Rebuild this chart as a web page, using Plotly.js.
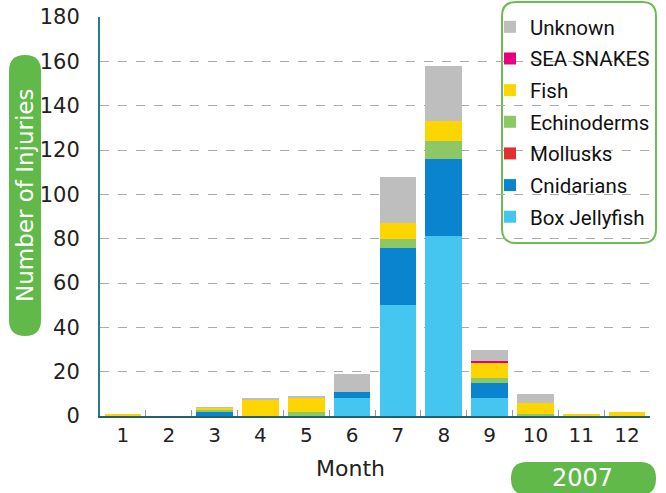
<!DOCTYPE html>
<html><head><meta charset="utf-8">
<script src="https://cdn.plot.ly/plotly-3.0.1.min.js"></script>
<style>html,body{margin:0;padding:0;background:#fff}#chart{width:666px;height:493px}</style>
</head><body><div id="chart"></div>
<script>
const months = ['1','2','3','4','5','6','7','8','9','10','11','12'];
const boxJellyfish = [0,0,0,0,0,8,50,81,8,0,0,0];
const cnidarians   = [0,0,2,0,0,3,26,35,7,0,0,0];
const mollusks     = [0,0,0,0,0,0,0,0,0,0,0,0];
const echinoderms  = [0,0,0.5,0,2,0,4,8,2,1,0,0];
const fish         = [1,0,1,7,6,0,7,9,7,5,1,2];
const seaSnakes    = [0,0,0,0,0,0,0,0,1,0,0,0];
const unknown      = [0,0,0.5,1,1,8,21,25,5,4,0,0];

const series = [
  {name:'Box Jellyfish', y:boxJellyfish, color:'#45c6f0'},
  {name:'Cnidarians', y:cnidarians, color:'#0b84cf'},
  {name:'Mollusks', y:mollusks, color:'#e2302f'},
  {name:'Echinoderms', y:echinoderms, color:'#8dc766'},
  {name:'Fish', y:fish, color:'#fdd500'},
  {name:'SEA SNAKES', y:seaSnakes, color:'#e5007f'},
  {name:'Unknown', y:unknown, color:'#bebebe'}
];

const traces = series.map((s,i)=>({
  type:'bar', x:months, y:s.y, name:s.name, legendgroup:'g'+i,
  legendrank: 1000 - i*10,
  marker:{color:s.color, line:{width:0}}, hoverinfo:'x+y+name'
}));

const W=666,H=493, L=100, R=16, T=17, B=77;
const pw=W-L-R, ph=H-T-B;
function px(x){return +((x-L)/pw).toFixed(5);}
function py(y){return +(1-(y-T)/ph).toFixed(5);}
function pill(x0,y0,x1,y1,r,fill,stroke,sw){
  const d = 'M'+px(x0+r)+','+py(y0)+
    ' L'+px(x1-r)+','+py(y0)+
    ' Q'+px(x1)+','+py(y0)+' '+px(x1)+','+py(y0+r)+
    ' L'+px(x1)+','+py(y1-r)+
    ' Q'+px(x1)+','+py(y1)+' '+px(x1-r)+','+py(y1)+
    ' L'+px(x0+r)+','+py(y1)+
    ' Q'+px(x0)+','+py(y1)+' '+px(x0)+','+py(y1-r)+
    ' L'+px(x0)+','+py(y0+r)+
    ' Q'+px(x0)+','+py(y0)+' '+px(x0+r)+','+py(y0)+' Z';
  return {type:'path', xref:'paper', yref:'paper', path:d, fillcolor:fill,
    line:{color:stroke||fill, width:sw||0}, layer:'below'};
}

const layout = {
  width:W, height:H,
  margin:{l:L, r:R, t:T, b:B, autoexpand:false},
  paper_bgcolor:'#fff', plot_bgcolor:'#fff',
  barmode:'stack', bargap:0.2,
  font:{family:'DejaVu Sans, sans-serif', color:'#222'},
  showlegend:true,
  legend:{x:px(490), y:py(7), xanchor:'left', yanchor:'top',
    traceorder:'grouped', tracegroupgap:2,
    font:{size:20.5, color:'#111', family:'Roboto, Liberation Sans, sans-serif'},
    bgcolor:'rgba(0,0,0,0)', borderwidth:0, itemwidth:30},
  xaxis:{type:'category', showgrid:false, showline:true, linecolor:'#1f5f6f', linewidth:2,
    ticks:'inside', tickson:'boundaries', ticklen:6, tickcolor:'#999', tickwidth:1,
    tickfont:{size:20, color:'#222'}, zeroline:false},
  yaxis:{range:[0,180], dtick:20, showgrid:true, gridcolor:'#aaa', griddash:'dash', gridwidth:1,
    showline:true, linecolor:'#2a7a8c', linewidth:2, ticks:'', zeroline:false,
    tickfont:{size:21, color:'#222'}, ticklabelstandoff:14},
  shapes:[
    pill(9,55,41,336,16,'#61b94a'),
    pill(511,462,656,495,16,'#61b94a'),
    pill(502,2,656,243,14,'rgba(0,0,0,0)','#6dbb55',2)
  ],
  annotations:[
    {xref:'paper', yref:'paper', x:px(25), y:py(195), text:'Number of Injuries', textangle:-90,
      showarrow:false, font:{size:23, color:'#fff'}, xanchor:'center', yanchor:'middle'},
    {xref:'paper', yref:'paper', x:px(583), y:py(478), text:'2007',
      showarrow:false, font:{size:24, color:'#fff'}, xanchor:'center', yanchor:'middle'},
    {xref:'paper', yref:'paper', x:px(351), y:py(469), text:'Month',
      showarrow:false, font:{size:22, color:'#222'}, xanchor:'center', yanchor:'middle'}
  ]
};

Plotly.newPlot('chart', traces, layout, {displayModeBar:false, staticPlot:true});
</script></body></html>
